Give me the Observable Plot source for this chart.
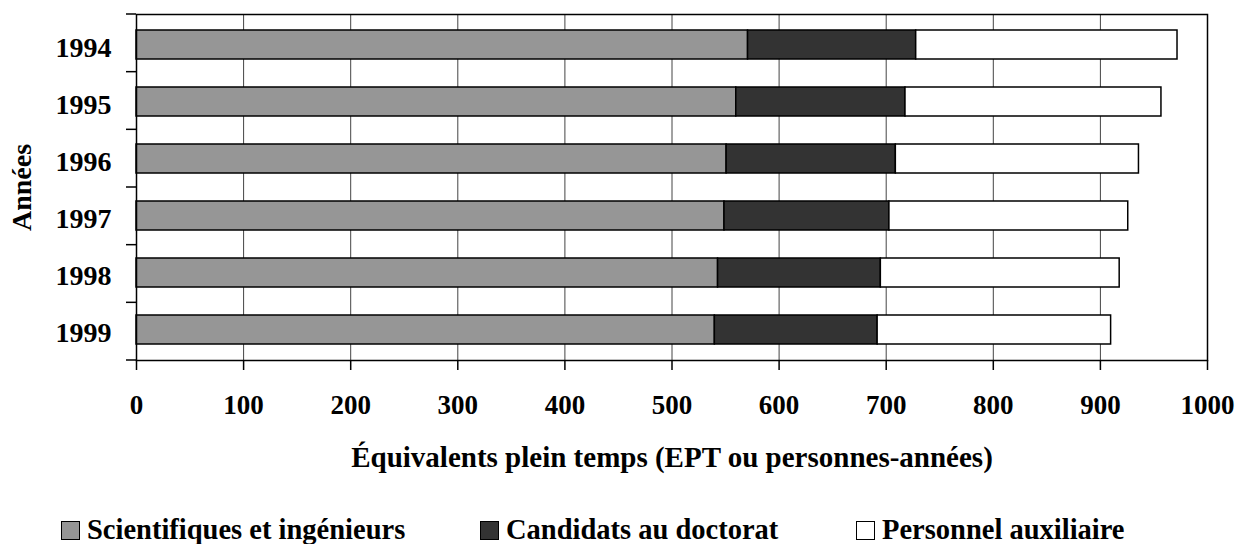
<!DOCTYPE html>
<html>
<head>
<meta charset="utf-8">
<script src="https://cdn.jsdelivr.net/npm/d3@7"></script>
<script src="https://cdn.jsdelivr.net/npm/@observablehq/plot@0.6"></script>
<style>
  html, body { margin: 0; padding: 0; background: #fff; }
  #wrap { position: relative; width: 1239px; height: 544px; overflow: hidden; }
  .legend { position: absolute; top: 516px; left: 0; width: 1239px; height: 28px;
    font-family: "Liberation Serif", "Times New Roman", serif; font-weight: bold; font-size: 28.5px; color: #000; }
  .item { position: absolute; top: 0; display: flex; align-items: center; white-space: nowrap; line-height: 28px; }
  .sw { width: 19px; height: 19px; border: 1.2px solid #000; margin-right: 7px; box-sizing: border-box; }
</style>
</head>
<body>
<div id="wrap"></div>
<script>
// ---- data ----
const years = ["1994", "1995", "1996", "1997", "1998", "1999"];
const scientifiques = [571, 560, 551, 549, 543, 540];
const candidats = [157, 158, 158, 154, 152, 152];
const auxiliaire = [244, 239, 227, 223, 223, 218];
const seriesNames = ["Scientifiques et ingénieurs", "Candidats au doctorat", "Personnel auxiliaire"];
const seriesColors = ["#969696", "#333333", "#ffffff"];
const xTicks = [0, 100, 200, 300, 400, 500, 600, 700, 800, 900, 1000];
const gridTicks = [100, 200, 300, 400, 500, 600, 700, 800, 900];
const xTitle = "Équivalents plein temps (EPT ou personnes-années)";
const yTitle = "Années";

// long table built from the arrays
const seriesValues = [scientifiques, candidats, auxiliaire];
const table = [];
seriesNames.forEach((s, si) => years.forEach((y, i) => table.push({year: y, series: s, value: seriesValues[si][i]})));

const FONT = '"Liberation Serif", "Times New Roman", serif';
const W = 1239, H = 490, MT = 14, MB = 130, ML = 136, MR = 32;

// band-boundary ticks on the left of the y axis
function yBoundaryTicks(index, scales, values, dims) {
  const g = d3.create("svg:g");
  const top = dims.marginTop, bottom = dims.height - dims.marginBottom;
  const n = years.length;
  for (let k = 0; k <= n; k++) {
    const yy = top + (bottom - top) * k / n;
    g.append("line").attr("x1", dims.marginLeft - 10).attr("x2", dims.marginLeft)
      .attr("y1", yy).attr("y2", yy).attr("stroke", "#000").attr("stroke-width", 1.5);
  }
  return g.node();
}

const chart = Plot.plot({
  width: W, height: H,
  marginTop: MT, marginBottom: MB, marginLeft: ML, marginRight: MR,
  style: {fontFamily: FONT, fontWeight: "bold", fontSize: "28px", color: "#000", background: "#fff"},
  x: {domain: [0, 1000]},
  y: {domain: years, paddingInner: 0.5, paddingOuter: 0.25},
  color: {domain: seriesNames, range: seriesColors},
  marks: [
    Plot.ruleX(gridTicks, {stroke: "#444", strokeWidth: 1}),
    Plot.barX(table, Plot.stackX({y: "year", x: "value", fill: "series", order: seriesNames, stroke: "#000", strokeWidth: 1.5})),
    Plot.frame({stroke: "#000", strokeWidth: 1.5}),
    Plot.axisX({ticks: xTicks, tickSize: 10, tickPadding: 24, tickFormat: d => String(d), label: null, fontSize: 27, fontWeight: "bold", strokeWidth: 1.5}),
    Plot.axisY({tickSize: 0, tickPadding: 25, dy: 3, label: null, fontSize: 28, fontWeight: "bold"}),
    yBoundaryTicks,
    Plot.text([xTitle], {frameAnchor: "bottom", dy: 106, fontSize: 29, fontWeight: "bold", fill: "#000"}),
    Plot.text([yTitle], {frameAnchor: "left", dx: -114, rotate: -90, textAnchor: "middle", fontSize: 28, fontWeight: "bold", fill: "#000"})
  ]
});

const wrap = document.getElementById("wrap");
wrap.appendChild(chart);

// legend
const legendLefts = [61, 480, 856];
const legend = document.createElement("div");
legend.className = "legend";
seriesNames.forEach((s, i) => {
  const it = document.createElement("div");
  it.className = "item";
  it.style.left = legendLefts[i] + "px";
  const sw = document.createElement("span");
  sw.className = "sw";
  sw.style.background = seriesColors[i];
  const tx = document.createElement("span");
  tx.textContent = s;
  it.appendChild(sw);
  it.appendChild(tx);
  legend.appendChild(it);
});
wrap.appendChild(legend);
</script>
</body>
</html>
